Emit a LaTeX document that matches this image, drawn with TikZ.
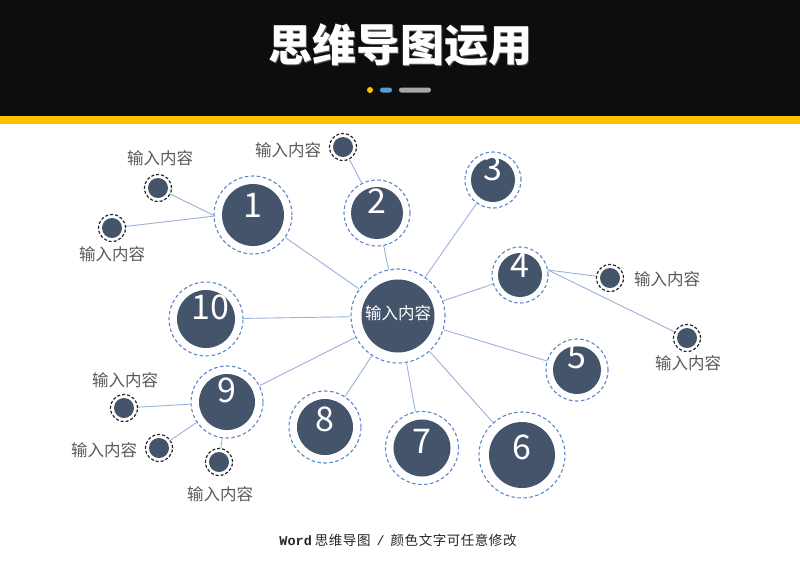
\documentclass[tikz,border=0pt]{standalone}
\usepackage{fontspec}
\setmainfont{Noto Sans CJK SC}
\newfontfamily\footfont{Noto Sans CJK SC}[LetterSpace=4]
\newfontfamily\footmono{Liberation Mono}
\definecolor{nodefill}{HTML}{44546A}
\definecolor{ringblue}{HTML}{5B86C9}
\definecolor{connblue}{HTML}{9BB2DD}
\definecolor{labelgrey}{HTML}{595959}
\definecolor{headblack}{HTML}{0D0D0D}
\definecolor{accyellow}{HTML}{FFC000}
\definecolor{accblue}{HTML}{5B9BD5}
\definecolor{accgrey}{HTML}{A6A6A6}
\tikzset{
  ring/.style={circle, draw=ringblue, line width=1.1pt, dash pattern=on 3.5pt off 2.5pt, inner sep=0pt},
  disc/.style={circle, fill=nodefill, inner sep=0pt},
  sring/.style={circle, draw=black!85, line width=1.2pt, dash pattern=on 3pt off 2pt, inner sep=0pt, minimum size=27pt},
  sdisc/.style={circle, fill=nodefill, inner sep=0pt, minimum size=20pt},
  digit/.style={text=white, inner sep=0pt, font=\fontsize{34}{34}\selectfont},
  lbl/.style={text=labelgrey, inner sep=0pt, font=\fontsize{16.5}{18}\selectfont},
  conn/.style={draw=connblue, line width=0.9pt},
}
\newcommand\bignode[5]{%
  \node[ring, minimum size=2*#5] (o#1) at (#2,#3) {};
  \node[disc, minimum size=2*#4] (n#1) at (#2,#3) {};
}
\newcommand\smallnode[3]{%
  \node[sring] (o#1) at (#2,#3) {};
  \node[sdisc] (n#1) at (#2,#3) {};
}
\begin{document}
\begin{tikzpicture}[x=1pt,y=-1pt]
\useasboundingbox (0,0) rectangle (800,566);
% header
\fill[white] (0,0) rectangle (800,566);
\fill[headblack] (0,0) rectangle (800,116);
\fill[accyellow] (0,116) rectangle (800,124);
\node[text=black!65, inner sep=0pt, font=\fontsize{44}{44}\selectfont\bfseries] (titleshadow) at (401,46) {思维导图运用};
\node[text=white, inner sep=0pt, font=\fontsize{44}{44}\selectfont\bfseries] (title) at (400,45) {思维导图运用};
\fill[accyellow] (370,90) circle (3);
\fill[accblue, rounded corners=2.5pt] (380,87.5) rectangle (392,92.5);
\fill[accgrey, rounded corners=2.5pt] (399,87.5) rectangle (431,92.5);

% big nodes
\bignode{c}{398}{316}{36.5}{47}
\bignode{1}{253}{215}{31}{39}
\bignode{2}{377}{213}{26}{33}
\bignode{3}{493}{180}{22}{28}
\bignode{4}{520}{275}{22}{28}
\bignode{5}{577}{370}{24}{31}
\bignode{6}{522}{455}{33}{43}
\bignode{7}{422}{448}{28.5}{36.5}
\bignode{8}{325}{427}{28}{36}
\bignode{9}{227}{402}{28}{36}
\bignode{10}{206}{319}{29}{37}

\node[text=white, inner sep=0pt, font=\fontsize{16.5}{18}\selectfont] (tc) at (398,313) {输入内容};
\node[digit] (d1) at (253,205) {1};
\node[digit] (d2) at (377,201) {2};
\node[digit] (d3) at (493,168) {3};
\node[digit] (d4) at (520,265) {4};
\node[digit] (d5) at (577,357) {5};
\node[digit] (d6) at (522,447) {6};
\node[digit] (d7) at (422,441) {7};
\node[digit] (d8) at (325,419) {8};
\node[digit] (d9) at (227,390) {9};
\node[digit] (d10) at (210,307) {10};

% small nodes
\smallnode{s1a}{158}{188}
\smallnode{s1b}{112}{228}
\smallnode{s2}{343}{147}
\smallnode{s4a}{610}{278}
\smallnode{s4b}{687}{338}
\smallnode{s9a}{124}{408}
\smallnode{s9b}{159}{448}
\smallnode{s9c}{219}{462}

\node[lbl] (l1a) at (160,158) {输入内容};
\node[lbl] (l1b) at (112,254) {输入内容};
\node[lbl] (l2) at (288,150) {输入内容};
\node[lbl] (l4a) at (667,279) {输入内容};
\node[lbl] (l4b) at (688,363) {输入内容};
\node[lbl] (l9a) at (125,380) {输入内容};
\node[lbl] (l9b) at (104,450) {输入内容};
\node[lbl] (l9c) at (220,494) {输入内容};

% connectors
\coordinate (p1) at (215,216);
\coordinate (p4) at (548,270);
\draw[conn] (oc) -- (o1);
\draw[conn] (oc) -- (o2);
\draw[conn] (oc) -- (o3);
\draw[conn] (oc) -- (o4);
\draw[conn] (oc) -- (o5);
\draw[conn] (oc) -- (o6);
\draw[conn] (oc) -- (o7);
\draw[conn] (oc) -- (o8);
\draw[conn] (oc) -- (o9);
\draw[conn] (oc) -- (o10);
\draw[conn] (p1) -- (os1a);
\draw[conn] (p1) -- (os1b);
\draw[conn] (o2) -- (os2);
\draw[conn] (p4) -- (os4a);
\draw[conn] (p4) -- (os4b);
\draw[conn] (o9) -- (os9a);
\draw[conn] (o9) -- (os9b);
\draw[conn] (o9) -- (os9c);

% footer
\node[text=black!85, inner sep=0pt, font=\fontsize{13.5}{15}\selectfont] (footer) at (398,540) {{\footmono\bfseries Word}\ {\footfont 思维导图}\ \ {\footmono /}\ \ {\footfont 颜色文字可任意修改}};
\end{tikzpicture}
\end{document}
